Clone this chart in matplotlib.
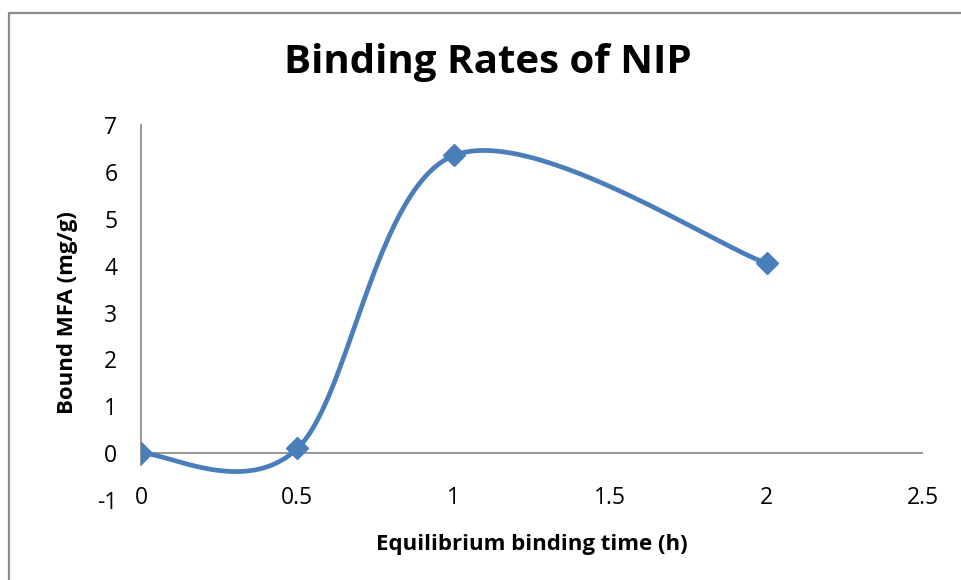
import numpy as np
import matplotlib

matplotlib.use("Agg")
import matplotlib.pyplot as plt
from matplotlib.patches import Rectangle

# binding time (h) vs bound MFA (mg/g)
times = [0, 0.5, 1, 2]
bound = [0, 0.1, 6.35, 4.05]
x_ticks = [0, 0.5, 1, 1.5, 2, 2.5]
y_ticks = [-1, 0, 1, 2, 3, 4, 5, 6, 7]

BLUE = "#4A7EBB"
GRAY = "#868686"
FONT = "Open Sans"


def smooth_curve(xs, ys, n=60):
    """Excel-style smoothed line: cubic Bezier segments with Catmull-Rom tangents."""
    p = np.column_stack([xs, ys]).astype(float)
    out = []
    t = np.linspace(0, 1, n)[:, None]
    for i in range(len(p) - 1):
        p_prev = p[max(i - 1, 0)]
        p_next = p[min(i + 2, len(p) - 1)]
        c1 = p[i] + (p[i + 1] - p_prev) / 6
        c2 = p[i + 1] - (p_next - p[i]) / 6
        seg = ((1 - t) ** 3) * p[i] + 3 * ((1 - t) ** 2) * t * c1 \
            + 3 * (1 - t) * t ** 2 * c2 + t ** 3 * p[i + 1]
        out.append(seg)
    pts = np.vstack(out)
    return pts[:, 0], pts[:, 1]


fig = plt.figure(figsize=(9.61, 5.8), dpi=100)
ax = fig.add_axes([141 / 961, 80 / 580, 782 / 961, 375 / 580])

# chart frame, open at the right and bottom edges
fig.patches.append(Rectangle((9 / 961, -0.1), 1.2, (580 - 13) / 580 + 0.1,
                             transform=fig.transFigure, fill=False,
                             edgecolor="#8c8c8c", linewidth=1.6))

sx, sy = smooth_curve(times, bound)
ax.plot(sx, sy, color=BLUE, linewidth=3.4, solid_capstyle="round", zorder=3)
ax.plot(times, bound, linestyle="none", marker="D", markersize=11,
        color=BLUE, zorder=4)

ax.set_xlim(0, 2.5)
ax.set_ylim(-1, 7)
for s in ax.spines.values():
    s.set_visible(False)
ax.axhline(0, color=GRAY, linewidth=1.2, zorder=1)
ax.plot([0, 0], [-0.25, 7], color=GRAY, linewidth=1.2, zorder=1, clip_on=False)

ax.set_xticks(x_ticks)
ax.set_xticklabels([f"{v:g}" for v in x_ticks])
ax.set_yticks(y_ticks)
ax.set_yticklabels([f"{v:g}" for v in y_ticks])
ax.tick_params(axis="both", length=0, labelsize=16.5)
ax.tick_params(axis="x", pad=-10)
ax.tick_params(axis="y", pad=17)
for lbl in ax.get_xticklabels() + ax.get_yticklabels():
    lbl.set_family(FONT)

ax.set_xlabel("Equilibrium binding time (h)", fontsize=16, fontweight="bold",
              family=FONT, labelpad=17)
ax.set_ylabel("Bound MFA (mg/g)", fontsize=16, fontweight="bold",
              family=FONT, labelpad=14)
fig.text(488 / 961, 1 - 62 / 580, "Binding Rates of NIP", ha="center",
         va="center", fontsize=29, fontweight="bold", family=FONT)

fig.savefig("out.png", dpi=100)
plt.close(fig)
